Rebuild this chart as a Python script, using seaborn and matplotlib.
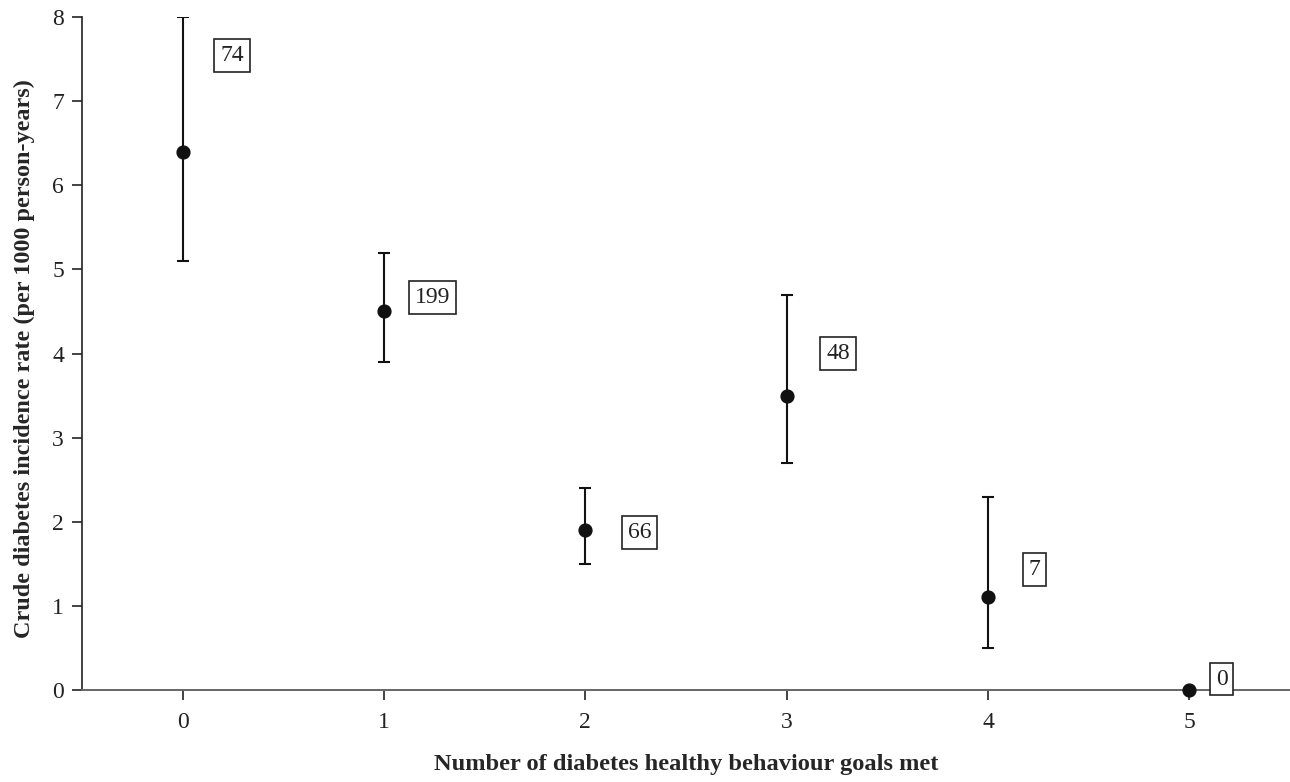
import matplotlib
matplotlib.use("Agg")
import matplotlib.pyplot as plt
import seaborn as sns
import pandas as pd
import numpy as np

goals = [0, 1, 2, 3, 4, 5]
rate = [6.4, 4.5, 1.9, 3.5, 1.1, 0.0]
lower = [5.1, 3.9, 1.5, 2.7, 0.5, 0.0]
upper = [8.0, 5.2, 2.4, 4.7, 2.3, 0.0]
cases = ["74", "199", "66", "48", "7", "0"]
label_x = [0.245, 1.24, 2.27, 3.255, 4.23, 5.16]
label_y = [7.54, 4.67, 1.87, 4.0, 1.43, 0.13]

sns.set_theme(style="ticks")
plt.rcParams['font.family'] = ['Liberation Serif', 'DejaVu Serif']

df = pd.DataFrame({"goals": goals, "rate": rate, "lower": lower, "upper": upper})

fig = plt.figure(figsize=(12.9, 7.82), dpi=100)
ax = fig.add_axes([82/1290, 1-690/782, 1-82/1290, (690-17)/782])

yerr = np.array([df.rate - df.lower, df.upper - df.rate])
ax.errorbar(df.goals, df.rate, yerr=yerr, fmt='none', ecolor='#111111',
            elinewidth=1.5, capsize=4.5, capthick=1.5, zorder=2)
sns.scatterplot(data=df, x="goals", y="rate", ax=ax, color='#111111', s=85,
                edgecolor='#111111', linewidth=1, zorder=3, legend=False, clip_on=False)

for lx, ly, c in zip(label_x, label_y, cases):
    ax.text(lx, ly, c, ha='center', va='center', fontsize=17, color='#222222',
            bbox=dict(boxstyle='square,pad=0.25', fc='white', ec='#222222', lw=1.2), zorder=4)

ax.set_xlim(-0.5, 5.5)
ax.set_ylim(0, 8)
ax.set_xticks(goals)
ax.set_yticks(range(0, 9))
ax.tick_params(axis='both', labelsize=17, length=7, width=1.2, colors='#222222')
ax.tick_params(axis='x', pad=9)
ax.tick_params(axis='y', pad=6)
ax.spines['top'].set_visible(False)
ax.spines['right'].set_visible(False)
ax.spines['left'].set_color('#222222')
ax.spines['left'].set_linewidth(1.2)
ax.spines['bottom'].set_color('#666666')
ax.spines['bottom'].set_linewidth(1.4)
ax.set_xlabel("Number of diabetes healthy behaviour goals met", fontsize=17.6,
              fontweight='bold')
ax.set_ylabel("Crude diabetes incidence rate (per 1000 person-years)", fontsize=17.5,
              fontweight='bold')
ax.xaxis.set_label_coords(0.5, -0.095)
ax.yaxis.set_label_coords(-0.039, 0.4926)

fig.savefig("out.png", dpi=100)
